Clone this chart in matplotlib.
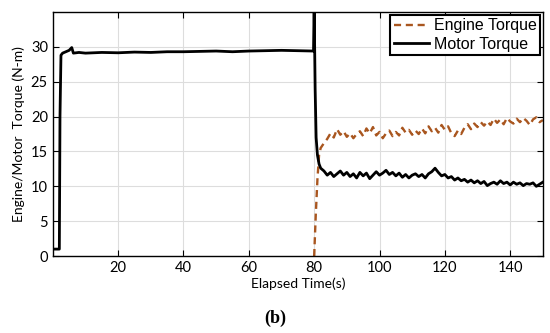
import matplotlib
matplotlib.use("Agg")
import matplotlib.pyplot as plt

# motor torque, start-up and steady part (0 - 81 s)
motorTimeA = [0, 2.0, 2.2, 2.5, 3.0, 4.0, 5.0, 5.8, 6.3, 8, 10, 15, 20, 25, 30, 35, 40, 45, 50, 55, 60, 65, 70, 75, 79.8, 80.0, 80.3, 80.6, 81.0, 81.5]
motorTorqueA = [1.0, 1.0, 20.0, 28.8, 29.1, 29.3, 29.5, 29.9, 29.1, 29.2, 29.1, 29.2, 29.15, 29.25, 29.2, 29.3, 29.3, 29.35, 29.4, 29.3, 29.4, 29.45, 29.5, 29.45, 29.4, 36.0, 24.0, 17.0, 14.5, 13.2]

# after the engine starts (82 - 150 s, 1 s steps)
timeB = list(range(82, 151))
motorTorqueB = [12.6, 12.2, 11.6, 12.0, 11.4, 11.8, 12.2, 11.6, 12.0, 11.4, 11.8, 11.2, 12.0, 11.5, 11.9, 11.1, 11.6, 12.1, 11.6,
                11.9, 12.3, 11.7, 12.0, 11.5, 11.9, 11.3, 11.7, 11.2, 11.6, 11.8, 11.4, 11.7, 11.2, 11.8, 12.1, 12.6, 12.0, 11.5, 11.7,
                11.2, 11.4, 10.9, 11.2, 10.8, 11.0, 10.6, 10.9, 10.5, 10.8, 10.4, 10.7, 10.1, 10.4, 10.6, 10.3, 10.8, 10.4, 10.6, 10.2,
                10.6, 10.3, 10.5, 10.1, 10.4, 10.3, 10.5, 10.0, 10.3, 10.6]

engineTime = [80.0, 80.5, 81.0, 81.5] + timeB
engineTorque = [0.0, 6.0, 11.0, 14.5,
                15.5, 16.2, 16.8, 17.6, 17.0, 18.2, 17.4, 17.9, 17.1, 17.6, 16.9, 17.5, 17.9, 17.2, 18.3, 17.6, 18.5, 17.3, 17.8,
                16.9, 17.6, 18.0, 17.2, 17.8, 17.3, 18.4, 17.7, 18.1, 17.4, 18.0, 17.5, 18.3, 17.6, 18.6, 17.9, 18.4, 17.7, 18.8, 18.1,
                18.6, 17.6, 17.2, 18.0, 17.5, 18.4, 18.9, 18.2, 19.0, 18.5, 19.2, 18.7, 19.3, 18.8, 19.7, 19.1, 19.6, 18.9, 19.8, 19.3,
                19.0, 19.7, 19.2, 19.8, 19.4, 18.8, 19.6, 19.9, 19.2, 19.5]

xTicks = [20, 40, 60, 80, 100, 120, 140]
yTicks = [0, 5, 10, 15, 20, 25, 30]

fig = plt.figure(figsize=(5.5, 3.33), dpi=100)
ax = fig.add_axes([0.096, 0.231, 0.891, 0.733])

# engine torque drawn first, motor on top
engineLine, = ax.plot(engineTime, engineTorque, color="#a9561f", linestyle=(0, (3, 2)), linewidth=1.7)
motorLine, = ax.plot(motorTimeA + timeB, motorTorqueA + motorTorqueB, color="black", linewidth=2.0)

ax.set_xlim(0, 150)
ax.set_ylim(0, 35)
ax.set_xticks(xTicks)
ax.set_yticks(yTicks)
ax.grid(True, color="#dddddd", linewidth=0.8)
ax.tick_params(direction="in", top=True, right=True, length=4, labelsize=10.5)
for lab in ax.get_xticklabels() + ax.get_yticklabels():
    lab.set_fontfamily("Lato")
for sp in ax.spines.values():
    sp.set_linewidth(1.0)

ax.set_xlabel("Elapsed Time(s)", fontsize=10, fontfamily="Lato", labelpad=2)
ax.set_ylabel("Engine/Motor  Torque (N-m)", fontsize=10, fontfamily="Lato", labelpad=4)

leg = ax.legend([engineLine, motorLine], ["Engine Torque", "Motor Torque"], loc="upper right",
                prop={"family": "Liberation Sans", "size": 11.5}, fancybox=False, framealpha=1,
                edgecolor="black", borderpad=0.2, handlelength=2.2, handletextpad=0.3,
                labelspacing=0.2, borderaxespad=0.2)
leg.get_frame().set_linewidth(1.5)

fig.text(0.5, 0.045, "(b)", ha="center", va="center", fontsize=13, fontfamily="Liberation Serif", fontweight="bold")

fig.savefig("out.png", dpi=100)
